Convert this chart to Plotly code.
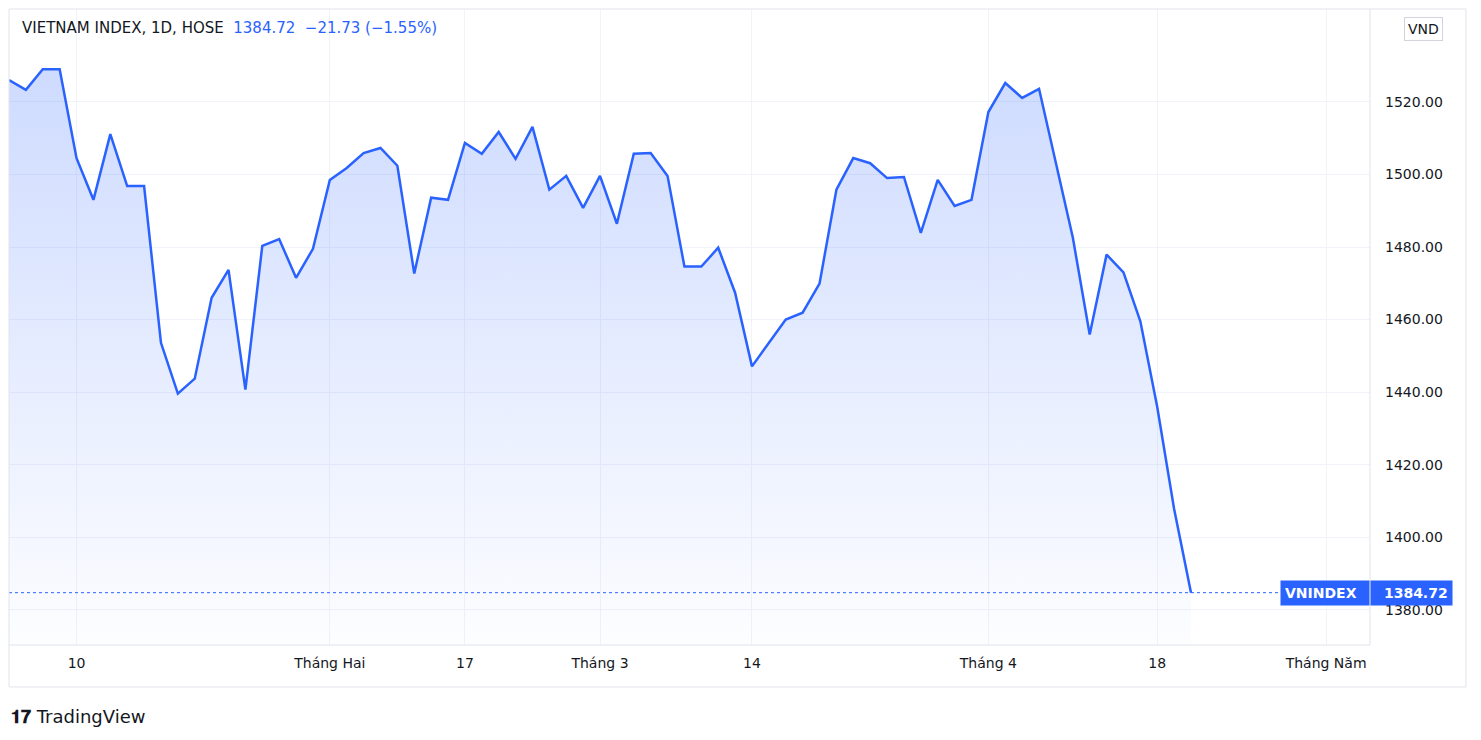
import plotly.graph_objects as go
import pandas as pd

# Trading days Jan 4 - Apr 20, 2022 (HOSE)
days = pd.bdate_range("2022-01-04", "2022-04-20")
holidays = pd.to_datetime(["2022-01-31", "2022-02-01", "2022-02-02", "2022-02-03", "2022-02-04", "2022-04-11"])
dates = [d for d in days if d not in holidays]

values = [1526.0, 1523.3, 1529.0, 1529.0, 1504.5, 1493.0, 1511.1, 1496.8, 1496.8, 1453.6,
          1439.6, 1443.7, 1466.0, 1473.7, 1440.7, 1480.3, 1482.2, 1471.5, 1479.5, 1498.5,
          1501.8, 1505.9, 1507.3, 1502.4, 1472.7, 1493.6, 1493.0, 1508.7, 1505.7, 1511.7,
          1504.3, 1513.1, 1495.8, 1499.6, 1490.8, 1499.6, 1486.4, 1505.7, 1505.9, 1499.6,
          1474.6, 1474.6, 1479.8, 1467.4, 1447.1, 1453.4, 1460.0, 1461.9, 1469.9, 1495.8,
          1504.5, 1503.1, 1499.0, 1499.3, 1483.9, 1498.5, 1491.3, 1493.0, 1517.2, 1525.2,
          1521.1, 1523.6, 1503.3, 1482.6, 1455.9, 1477.9, 1473.0, 1459.5, 1435.9, 1407.8,
          1384.72]

tick_idx = [4, 19, 27, 35, 44, 58, 68, 78]
tick_text = ["10", "Tháng Hai", "17", "Tháng 3", "14", "Tháng 4", "18", "Tháng Năm"]
y_ticks = [1380, 1400, 1420, 1440, 1460, 1480, 1500, 1520]

FONT = "DejaVu Sans, sans-serif"
x = list(range(len(values)))
blue = "#2962ff"
fig = go.Figure()
fig.add_trace(go.Scatter(
    x=x, y=values, mode="lines", line=dict(color=blue, width=2.5),
    fill="tozeroy",
    fillgradient=dict(type="vertical", start=1370, stop=1545,
                      colorscale=[[0, "rgba(41,98,255,0.01)"], [1, "rgba(41,98,255,0.25)"]]),
    hoverinfo="skip"))
fig.add_hline(y=values[-1], line=dict(color=blue, width=1, dash="dot"))

fig.update_layout(
    width=1465, height=724, paper_bgcolor="white", plot_bgcolor="white",
    margin=dict(l=1, r=103, t=1, b=87), showlegend=False,
    font=dict(family=FONT, size=14, color="#131722"),
    xaxis=dict(range=[0, 80.6], tickmode="array", tickvals=tick_idx, ticktext=tick_text,
               showgrid=True, gridcolor="#f0f3fa", zeroline=False, ticks="",
               ticklabelstandoff=8, tickfont=dict(family=FONT, size=14, color="#131722")),
    yaxis=dict(range=[1370.3, 1545.6], side="right", tickvals=y_ticks,
               ticktext=[f"{v:.2f}" for v in y_ticks], showgrid=True, gridcolor="#f0f3fa",
               zeroline=False, ticks="", ticklabelstandoff=14, tickfont=dict(family=FONT, size=14, color="#131722")),
)
# borders
fig.add_shape(type="rect", xref="paper", yref="paper", x0=0, x1=1, y0=0, y1=1,
              line=dict(color="#e0e3eb", width=1))
fig.add_shape(type="line", xref="paper", yref="paper", x0=1, x1=1.0705, y0=1, y1=1,
              line=dict(color="#e0e3eb", width=1))
fig.add_shape(type="line", xref="paper", yref="paper", x0=1.0705, x1=1.0705, y0=-0.066, y1=1,
              line=dict(color="#e0e3eb", width=1))
fig.add_shape(type="line", xref="paper", yref="paper", x0=0, x1=1.0705, y0=-0.066, y1=-0.066,
              line=dict(color="#e0e3eb", width=1))
fig.add_shape(type="line", xref="paper", yref="paper", x0=0, x1=0, y0=-0.066, y1=0,
              line=dict(color="#e0e3eb", width=1))

fig.add_annotation(xref="paper", yref="paper", x=0.008, y=0.988, xanchor="left", yanchor="top",
                   showarrow=False,
                   text="VIETNAM INDEX, 1D, HOSE  <span style='color:#2962ff'>1384.72  −21.73 (−1.55%)</span>",
                   font=dict(family=FONT, size=15, color="#131722"))
fig.add_annotation(xref="paper", y=1540, x=1.039, xanchor="center", yanchor="middle", showarrow=False,
                   text="VND", bgcolor="white", bordercolor="#d1d4dc", borderwidth=1, borderpad=3,
                   font=dict(family=FONT, size=14, color="#131722"))
fig.add_annotation(xref="paper", y=values[-1], x=1.0, xanchor="right", yanchor="middle", showarrow=False,
                   text="<b>VNINDEX</b>  ", bgcolor=blue, borderpad=4,
                   font=dict(family=FONT, size=14, color="white"))
fig.add_annotation(xref="paper", y=values[-1], x=1.0, xanchor="left", yanchor="middle", showarrow=False,
                   text=f"  <b>{values[-1]:.2f}</b>", bgcolor=blue, borderpad=4,
                   font=dict(family=FONT, size=14, color="white"))
fig.add_annotation(xref="paper", yref="paper", x=0.0, y=-0.092, xanchor="left", yanchor="top",
                   showarrow=False, text="<b>𝟏𝟕</b> TradingView",
                   font=dict(family=FONT, size=18, color="#131722"))

fig.write_html("out.html")
